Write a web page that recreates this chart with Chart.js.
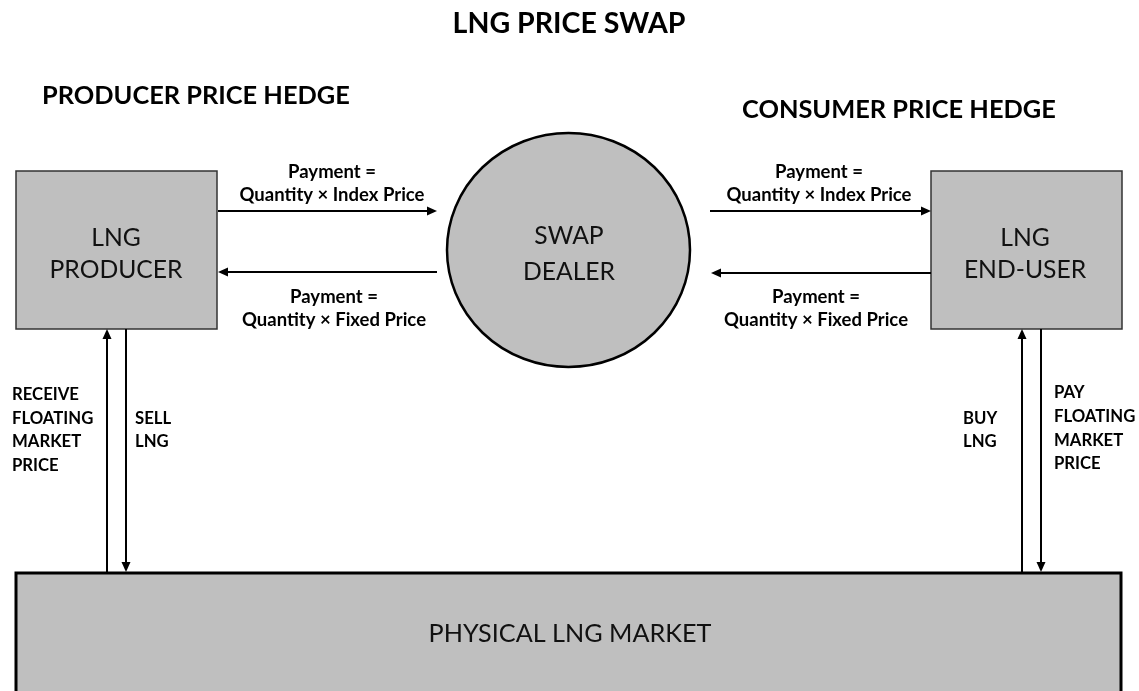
<!DOCTYPE html>
<html>
<head>
<meta charset="utf-8">
<script src="https://cdn.jsdelivr.net/npm/chart.js@4.4.1/dist/chart.umd.min.js"></script>
<style>
  html, body { margin: 0; padding: 0; background: #fff; }
  #wrap { width: 1139px; height: 691px; position: relative; }
</style>
</head>
<body>
<div id="wrap"><canvas id="diagram"></canvas></div>
<script>
//--- Texts of the diagram
var titleText = 'LNG PRICE SWAP';
var hedgeLabels = ['PRODUCER PRICE HEDGE', 'CONSUMER PRICE HEDGE'];
var nodeLabels = [['LNG', 'PRODUCER'], ['SWAP', 'DEALER'], ['LNG', 'END-USER'], ['PHYSICAL LNG MARKET']];
var paymentLabels = [
    ['Payment =', 'Quantity × Index Price'],
    ['Payment =', 'Quantity × Fixed Price'],
    ['Payment =', 'Quantity × Index Price'],
    ['Payment =', 'Quantity × Fixed Price']
];
var marketLabels = [
    ['RECEIVE', 'FLOATING', 'MARKET', 'PRICE'],
    ['SELL', 'LNG'],
    ['BUY', 'LNG'],
    ['PAY', 'FLOATING', 'MARKET', 'PRICE']
];

//--- Layout, in axis units (x 0..1139, y 0..691 top-down)
var boxes = [
    { x0: 16, y0: 171, x1: 217, y1: 329, cx: 116, cy: [237, 269] },
    { ellipse: true, cx: 569, cy: [235, 271], ex: 568.5, ey: 250, rx: 121.5, ry: 117 },
    { x0: 931, y0: 171, x1: 1122, y1: 329, cx: 1025, cy: [237, 269] },
    { x0: 16, y0: 573, x1: 1121, y1: 700, cx: 570, cy: [633], thick: true }
];
var hArrows = [
    { x0: 218, x1: 437, y: 211, lx: 332, ly: [171, 194] },
    { x0: 437, x1: 218, y: 272, lx: 334, ly: [296, 319] },
    { x0: 710, x1: 931, y: 211, lx: 819, ly: [171, 194] },
    { x0: 931, x1: 711, y: 273, lx: 816, ly: [296, 319] }
];
var vArrows = [
    { x: 107, y0: 572, y1: 329 },
    { x: 126, y0: 329, y1: 572 },
    { x: 1022, y0: 572, y1: 329 },
    { x: 1041, y0: 329, y1: 572 }
];
var sideText = [
    { x: 12, ly: [394, 418, 441, 465] },
    { x: 135, ly: [418, 441] },
    { x: 963, ly: [418, 441] },
    { x: 1054, ly: [392, 416, 440, 463] }
];

var FONT = 'Lato, "Open Sans", sans-serif';
var FILL = '#bfbfbf';

function fitSize(ctx, text, weight, width) {
    ctx.font = weight + ' 100px ' + FONT;
    return 100 * width / ctx.measureText(text).width;
}

// cap-centred text
function txt(ctx, s, x, y, size, weight, align) {
    ctx.font = weight + ' ' + size.toFixed(2) + 'px ' + FONT;
    ctx.textAlign = align || 'center';
    ctx.textBaseline = 'alphabetic';
    ctx.fillText(s, x, y + size * 0.358);
}

function arrowHead(ctx, x, y, dx, dy) {
    var L = 10, W = 4.5;
    ctx.beginPath();
    ctx.moveTo(x, y);
    ctx.lineTo(x - dx * L - dy * W, y - dy * L + dx * W);
    ctx.lineTo(x - dx * L + dy * W, y - dy * L - dx * W);
    ctx.closePath();
    ctx.fill();
}

var diagramPlugin = {
    id: 'diagram',
    afterDraw: function (chart) {
        var ctx = chart.ctx;
        var sx = chart.scales.x, sy = chart.scales.y;
        var X = function (v) { return sx.getPixelForValue(v); };
        var Y = function (v) { return sy.getPixelForValue(v); };
        ctx.save();

        // sizes fitted to the measured widths of the picture
        var titleSize = fitSize(ctx, titleText, 'bold', 233);
        var hedgeSize = fitSize(ctx, hedgeLabels[0], 'bold', 308);
        var nodeSize = fitSize(ctx, nodeLabels[0][1], 'normal', 133);
        var marketSize = fitSize(ctx, nodeLabels[3][0], 'normal', 283);
        var paySize = fitSize(ctx, paymentLabels[0][1], 'bold', 185);
        var sideSize = fitSize(ctx, marketLabels[0][0], 'bold', 67);

        // nodes
        boxes.forEach(function (b, i) {
            ctx.fillStyle = FILL;
            if (b.ellipse) {
                ctx.beginPath();
                ctx.ellipse(X(b.ex), Y(b.ey), b.rx, b.ry, 0, 0, Math.PI * 2);
                ctx.fill();
                ctx.lineWidth = 2.5;
                ctx.strokeStyle = '#000';
                ctx.stroke();
            } else {
                ctx.fillRect(X(b.x0), Y(b.y0), X(b.x1) - X(b.x0), Y(b.y1) - Y(b.y0));
                ctx.lineWidth = b.thick ? 3 : 1.5;
                ctx.strokeStyle = b.thick ? '#000' : '#333';
                ctx.strokeRect(X(b.x0), Y(b.y0), X(b.x1) - X(b.x0), Y(b.y1) - Y(b.y0));
            }
            ctx.fillStyle = '#111';
            nodeLabels[i].forEach(function (s, k) {
                txt(ctx, s, X(b.cx), Y(b.cy[k]), i === 3 ? marketSize : nodeSize, 'normal');
            });
        });

        // payment arrows
        ctx.strokeStyle = '#000';
        ctx.fillStyle = '#000';
        ctx.lineWidth = 2;
        hArrows.forEach(function (a, i) {
            var d = a.x1 > a.x0 ? 1 : -1;
            ctx.beginPath();
            ctx.moveTo(X(a.x0), Y(a.y));
            ctx.lineTo(X(a.x1) - d * 8, Y(a.y));
            ctx.stroke();
            arrowHead(ctx, X(a.x1), Y(a.y), d, 0);
            paymentLabels[i].forEach(function (s, k) {
                txt(ctx, s, X(a.lx), Y(a.ly[k]), paySize, 'bold');
            });
        });

        // physical flows
        vArrows.forEach(function (a, i) {
            var d = a.y1 > a.y0 ? 1 : -1;
            ctx.beginPath();
            ctx.moveTo(X(a.x), Y(a.y0));
            ctx.lineTo(X(a.x), Y(a.y1) - d * 8);
            ctx.stroke();
            arrowHead(ctx, X(a.x), Y(a.y1), 0, d);
            marketLabels[i].forEach(function (s, k) {
                txt(ctx, s, X(sideText[i].x), Y(sideText[i].ly[k]), sideSize, 'bold', 'left');
            });
        });

        // headings
        txt(ctx, titleText, X(569), Y(22.5), titleSize, 'bold');
        txt(ctx, hedgeLabels[0], X(42), Y(95), hedgeSize, 'bold', 'left');
        txt(ctx, hedgeLabels[1], X(742), Y(109), hedgeSize, 'bold', 'left');

        ctx.restore();
    }
};

var chart = new Chart(document.getElementById('diagram'), {
    type: 'scatter',
    data: { datasets: [{ data: [], pointRadius: 0 }] },
    options: {
        responsive: true,
        maintainAspectRatio: false,
        animation: false,
        layout: { padding: 0 },
        plugins: { legend: { display: false }, tooltip: { enabled: false } },
        scales: {
            x: { type: 'linear', min: 0, max: 1139, display: false },
            y: { type: 'linear', min: 0, max: 691, reverse: true, display: false }
        }
    },
    plugins: [diagramPlugin]
});
</script>
</body>
</html>
